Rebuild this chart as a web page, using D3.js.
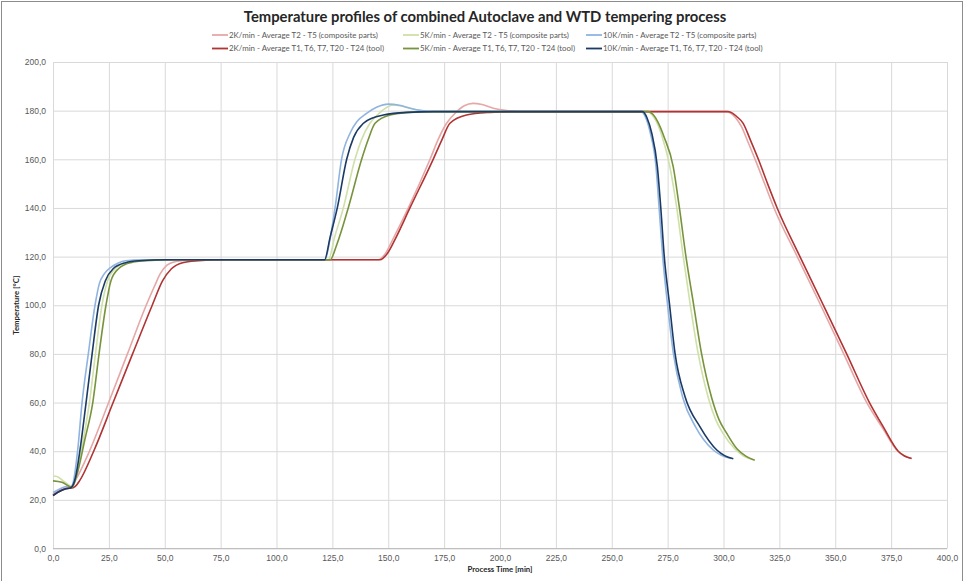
<!DOCTYPE html>
<html>
<head>
<meta charset="utf-8">
<script src="https://cdn.jsdelivr.net/npm/d3@7"></script>
<style>
  body { margin: 0; background: #fff; }
  svg { display: block; font-family: Lato, "Open Sans", sans-serif; }
  .tick text { fill: #595959; font-size: 8.5px; }
  .grid line { stroke: #d9d9d9; }
</style>
</head>
<body>
<svg id="chart" width="967" height="581"></svg>
<script>
// readings: [time min, temperature °C]
const comp2K = [[0,22.5],[3,24],[6,25],[8,25.3],[10,28],[16.3,40],[24.9,60],[33.3,80],[41.7,100],[45.5,108],[48,113],[51,116.5],[55,118],[62,118.6],[100,118.7],
  [145.5,118.7],[148.5,121],[152,127],[159,140],[168.7,160],[172.5,168.5],[176.1,174.8],[180,179],[184,182],[188,183],[192,182.5],[197,181],[203,180],[209,179.6],
  [250,179.6],[301.5,179.6],[303.5,178.8],[305.5,177],[308,173.5],[311,167],[315,158],[318.8,149],[322.6,140],[333,120],[343.5,100],[353.8,80],[364.1,60],[371.2,49.5],[378,40],[381,38],[384,37]];
const comp5K = [[0,29.8],[2,29.5],[5,27.5],[8.5,25.5],[10,28],[13,42],[16.3,60],[19,80],[21.9,100],[24.4,110],[27.8,115],[31,117],[35.5,118],[45,118.7],[100,118.7],
  [123.2,118.7],[126,128],[129.9,140],[135.1,160],[138,168],[141.8,174.8],[146,179],[152.3,182.3],[158,181.5],[163,180.3],[168,179.6],
  [220,179.6],[266,179.6],[268,178.3],[270,175.5],[272.5,169.5],[276,157],[279,140.5],[282,120],[285,101],[288.7,80],[293.2,62],[296.5,53],[300,47],[305,41],[309,38],[313.3,36.5]];
const comp10K = [[0,23],[3,24.5],[6,25.5],[8,25.3],[9,27],[11,40],[13,60],[15.8,80],[18.8,100],[20.7,108.8],[23,113],[25.9,115.6],[29,117.3],[32.5,118.3],[40,118.7],[100,118.7],
  [121.7,118.7],[123.5,125],[126.2,140],[129.1,160],[132.9,170.7],[136,175.5],[140.3,178.9],[145,181.5],[150,182.7],[155,182.2],[159.7,181],[165,180],[170,179.6],
  [220,179.6],[263.3,179.6],[265,177.5],[267.2,171],[269.8,157],[271.2,140],[272.8,120],[275,100],[277.6,80],[281.8,62],[287.5,50],[295.4,40.5],[299,38.3],[303.5,37]];
const tool2K = [[0,21.8],[3,23.5],[6,24.6],[9,25],[10,25.5],[12,28],[18.2,40],[26.9,60],[35.6,80],[44.4,100],[49,110],[53,115],[58,117.5],[65,118.3],[75,118.7],[100,118.7],
  [146.3,118.7],[149.6,121.3],[153,127],[159.7,140],[170.1,160],[174,168],[177.6,174.8],[185,178.2],[195.5,179.3],[205,179.6],
  [250,179.6],[302.1,179.6],[304,179],[306,177.5],[308.8,174.8],[312,168],[315.6,160],[319.7,150],[324,140],[334.2,120],[344.7,100],[355.1,80],[365.3,60],[371.5,50],[378.2,40],[381,38],[384.2,37]];
const tool5K = [[0,27.8],[4,27.2],[8.5,25.2],[10.6,30],[14.3,45],[17.8,60],[20.6,80],[23.7,100],[25.9,110],[29.3,115],[34.8,117.5],[41.4,118.3],[55,118.7],[100,118.7],
  [124,118.7],[127,125],[132.1,140],[138.1,160],[141,168],[144.1,174.8],[150.8,178.2],[159.7,179.3],[170,179.6],
  [220,179.6],[266.5,179.6],[268.5,178.4],[270.5,175.6],[273.5,169],[277.5,157],[280.2,140.5],[283.2,120],[286.5,101],[290.2,80],[294.7,62],[298,53],[301.4,47.4],[306,41],[310,38],[314,36.3]];
const tool10K = [[0,21.8],[2,23],[5,24.4],[8,25],[10,29],[12,40],[14.8,60],[17.5,80],[20.4,100],[23.4,110],[26.9,115],[32.5,117.5],[38.5,118.3],[50,118.7],[100,118.7],
  [121.5,118.7],[124,128],[127.2,140],[131.4,160],[134.5,169],[138.9,174.8],[143,177],[147.8,178.2],[158,179.3],[170,179.6],
  [220,179.6],[263.8,179.6],[265.8,177],[267.9,170.7],[270.4,157],[271.9,140.5],[273.5,120],[275.8,100.8],[278.3,80.3],[282.8,62.4],[289.5,50],[297,40.5],[300.5,38.2],[304.4,36.9]];

const seriesNames = [
  "2K/min - Average T2 - T5 (composite parts)",
  "5K/min - Average T2 - T5 (composite parts)",
  "10K/min - Average T2 - T5 (composite parts)",
  "2K/min - Average T1, T6, T7, T20 - T24 (tool)",
  "5K/min - Average T1, T6, T7, T20 - T24 (tool)",
  "10K/min - Average T1, T6, T7, T20 - T24 (tool)"
];
const seriesData = [comp2K, comp5K, comp10K, tool2K, tool5K, tool10K];
const seriesColors = ["#e6a7a6", "#cfe0a8", "#8fb4e0", "#b03434", "#77933c", "#1b3a66"];

const xTicks = d3.range(0, 401, 25);
const yTicks = d3.range(0, 201, 20);

const svg = d3.select("#chart");

svg.append("rect")
    .attr("x", 1.5).attr("y", 1.5)
    .attr("width", 961).attr("height", 580)
    .attr("fill", "#fff")
    .attr("stroke", "#8c8c8c");

const x = d3.scaleLinear().domain([0, 400]).range([53, 947]);
const y = d3.scaleLinear().domain([0, 200]).range([548.5, 62]);
const fmt = d => d.toFixed(1).replace(".", ",");

// grid + y axis
svg.append("g")
    .attr("class", "grid")
    .attr("transform", `translate(${x(0)},0)`)
    .call(d3.axisLeft(y).tickValues(yTicks).tickFormat(fmt)
        .tickSize(-(x(400) - x(0))).tickPadding(7))
    .call(g => g.select(".domain").remove());

// grid + x axis
svg.append("g")
    .attr("class", "grid")
    .attr("transform", `translate(0,${y(0)})`)
    .call(d3.axisBottom(x).tickValues(xTicks).tickFormat(fmt)
        .tickSize(-(y(0) - y(200))).tickPadding(6))
    .call(g => g.select(".domain").remove());

svg.append("line")
    .attr("x1", x(0)).attr("x2", x(400))
    .attr("y1", y(0)).attr("y2", y(0))
    .attr("stroke", "#bfbfbf");

const line = d3.line()
    .x(d => x(d[0]))
    .y(d => y(d[1]))
    .curve(d3.curveMonotoneX);

svg.append("g").selectAll("path")
    .data(seriesData)
    .enter().append("path")
    .attr("d", line)
    .attr("fill", "none")
    .attr("stroke", (d, i) => seriesColors[i])
    .attr("stroke-width", 1.6)
    .attr("stroke-linejoin", "round");

// title
svg.append("text")
    .attr("x", 485).attr("y", 22)
    .attr("text-anchor", "middle")
    .attr("font-size", 14.8)
    .attr("font-weight", "bold")
    .attr("fill", "#262626")
    .text("Temperature profiles of combined Autoclave and WTD tempering process");

// legend: 3 columns, 2 rows
const legX = [212, 403, 586];
const legY = [35, 48.5];
const leg = svg.append("g").selectAll("g")
    .data(seriesNames)
    .enter().append("g")
    .attr("transform", (d, i) => `translate(${legX[i % 3]},${legY[Math.floor(i / 3)]})`);

leg.append("line")
    .attr("x1", 0).attr("x2", 16)
    .attr("stroke", (d, i) => seriesColors[i])
    .attr("stroke-width", 1.8);

leg.append("text")
    .attr("x", 17)
    .attr("dy", "0.33em")
    .attr("font-size", 7.9)
    .attr("fill", "#595959")
    .text(d => d);

// axis titles
svg.append("text")
    .attr("x", (x(0) + x(400)) / 2).attr("y", 572)
    .attr("text-anchor", "middle")
    .attr("font-size", 7.8)
    .attr("font-weight", "bold")
    .attr("fill", "#262626")
    .text("Process Time [min]");

svg.append("text")
    .attr("transform", `translate(19,${(y(0) + y(200)) / 2}) rotate(-90)`)
    .attr("text-anchor", "middle")
    .attr("font-size", 7.8)
    .attr("font-weight", "bold")
    .attr("fill", "#262626")
    .text("Temperature [°C]");
</script>
</body>
</html>
